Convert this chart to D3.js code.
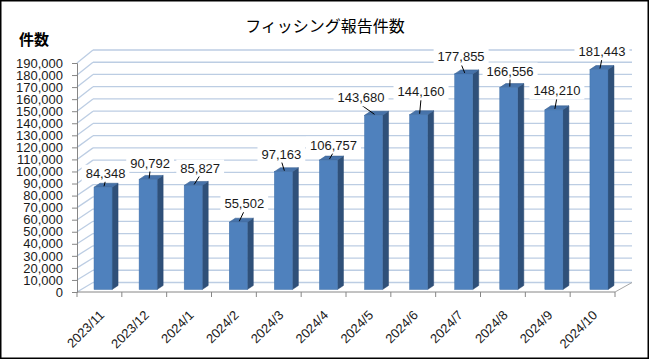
<!DOCTYPE html>
<html><head><meta charset="utf-8">
<script src="https://cdn.jsdelivr.net/npm/d3@7"></script>
<style>body{margin:0;background:#fff}svg{display:block}</style>
</head><body>
<svg id="c" width="650" height="360"></svg>
<script>
const categories = ["2023/11","2023/12","2024/1","2024/2","2024/3","2024/4","2024/5","2024/6","2024/7","2024/8","2024/9","2024/10"];
const values = [84348, 90792, 85827, 55502, 97163, 106757, 143680, 144160, 177855, 166556, 148210, 181443];
const tickValues = d3.range(0, 190001, 10000);
const titleText = "フィッシング報告件数";
const yAxisTitle = "件数";
// label placement offsets relative to bar top (layout only)
const labelDX = [-0.5, -1, 4, 3, -5, 2, -15.5, -0.6, -5.6, -1.7, 0, 0];
const labelDY = [-12, -14.5, -15.5, -16.5, -15.7, -13, -15.5, -21, -15, -14.6, -17, -16];

const svg = d3.select("#c");
const fmt = d3.format(",");
const font = "'Liberation Sans', Arial, sans-serif";
const cjk = "'Noto Sans CJK JP', sans-serif";

// geometry
const X0 = 77, X1 = 615, DX = 16;
const yFront = d3.scaleLinear().domain([0,190000]).range([292, 63]);
const yBack = d3.scaleLinear().domain([0,190000]).range([282.5, 50]);
const yBar = d3.scaleLinear().domain([0,190000]).range([289.5, 59.2]);
const xAxis = d3.scaleBand().domain(categories).range([X0, X1]);
const xBar = d3.scaleBand().domain(categories).range([80.5, 621.5]).paddingInner(0.6).paddingOuter(0.3);

// border
svg.append("rect").attr("x",0.75).attr("y",0.75).attr("width",647.5).attr("height",357.5)
  .attr("fill","#fff").attr("stroke","#000").attr("stroke-width",1.5);

// title
svg.append("text").attr("x",325).attr("y",32).attr("text-anchor","middle")
  .attr("font-family",cjk).attr("font-size",16).attr("fill","#000").text(titleText);
svg.append("text").attr("x",19).attr("y",45)
  .attr("font-family",cjk).attr("font-size",15).attr("font-weight","bold").attr("fill","#000").text(yAxisTitle);

const grid = svg.append("g").attr("stroke","#bccde3").attr("stroke-width",1.3).attr("fill","none");
// back wall gridlines
grid.selectAll("line.b").data(tickValues).join("line")
  .attr("x1",X0+DX).attr("x2",X1+DX+1).attr("y1",d=>yBack(d)).attr("y2",d=>yBack(d));
// side wall gridlines
grid.selectAll("line.s").data(tickValues).join("line")
  .attr("x1",X0).attr("x2",X0+DX).attr("y1",d=>yFront(d)).attr("y2",d=>yBack(d));

// floor edges
svg.append("line").attr("x1",X1).attr("y1",yFront(0)).attr("x2",X1+DX+1).attr("y2",yBack(0))
  .attr("stroke","#a6a6a6").attr("stroke-width",1);

// y axis
const ya = svg.append("g").attr("transform",`translate(${X0},0)`)
  .call(d3.axisLeft(yFront).tickValues(tickValues).tickFormat(fmt).tickSize(5).tickPadding(9));
ya.select(".domain").attr("stroke","#868686");
ya.selectAll(".tick line").attr("stroke","#868686");
ya.selectAll(".tick text").attr("font-family",font).attr("font-size",13).attr("fill","#1a1a1a");

// x axis
const xa = svg.append("g").attr("transform",`translate(0,${yFront(0)})`);
xa.append("line").attr("x1",X0).attr("x2",X1).attr("stroke","#868686");
const bounds = categories.map(c=>xAxis(c)).concat([X1]);
xa.selectAll("line.t").data(bounds).join("line").attr("class","t")
  .attr("x1",d=>d).attr("x2",d=>d).attr("y1",0).attr("y2",5).attr("stroke","#868686");
xa.selectAll("text").data(categories).join("text")
  .attr("transform",d=>`translate(${xAxis(d)+xAxis.bandwidth()/2+5.6},24) rotate(-45)`)
  .attr("text-anchor","end").attr("font-family",font).attr("font-size",13).attr("fill","#1a1a1a")
  .text(d=>d);

// bars
const bw = xBar.bandwidth(), bdx = 6, bdy = -4;
const bars = svg.append("g");
categories.forEach((c,i)=>{
  const x = xBar(c), y = yBar(values[i]), b = yBar(0);
  const g = bars.append("g");
  g.append("path").attr("d",`M${x+bw},${y}L${x+bw+bdx},${y+bdy}L${x+bw+bdx},${b+bdy}L${x+bw},${b}Z`)
    .attr("fill","#2f5079").attr("stroke","#2a4870").attr("stroke-width",0.5);
  g.append("path").attr("d",`M${x},${y}L${x+bdx},${y+bdy}L${x+bw+bdx},${y+bdy}L${x+bw},${y}Z`)
    .attr("fill","#4773aa").attr("stroke","#3a6191").attr("stroke-width",0.6);
  g.append("rect").attr("x",x).attr("y",y).attr("width",bw).attr("height",b-y)
    .attr("fill","#4f81bd").attr("stroke","#4272aa").attr("stroke-width",0.5);
});

// labels
const lab = svg.append("g");
categories.forEach((c,i)=>{
  const tx = xBar(c)+bw/2+bdx/2+labelDX[i];
  const ty = yBar(values[i])+bdy/2+labelDY[i];
  const ex = xBar(c)+bw/2+1, ey = yBar(values[i])-1;
  if (ey-(ty+7) > 4) {
    lab.append("line").attr("x1",tx).attr("y1",ty+7).attr("x2",ex).attr("y2",ey)
      .attr("stroke","#000").attr("stroke-width",1);
  }
  const t = lab.append("text").attr("x",tx).attr("y",ty).attr("dy","0.35em")
    .attr("text-anchor","middle").attr("font-family",font).attr("font-size",13)
    .attr("fill","#1a1a1a").text(fmt(values[i]));
  const bb = t.node().getBBox();
  lab.insert("rect","text:last-of-type").attr("x",bb.x-4).attr("y",bb.y-1).attr("width",bb.width+8).attr("height",bb.height+2)
    .attr("fill","#fff");
});
// re-raise texts above their boxes
lab.selectAll("text").raise();
</script>
</body></html>
